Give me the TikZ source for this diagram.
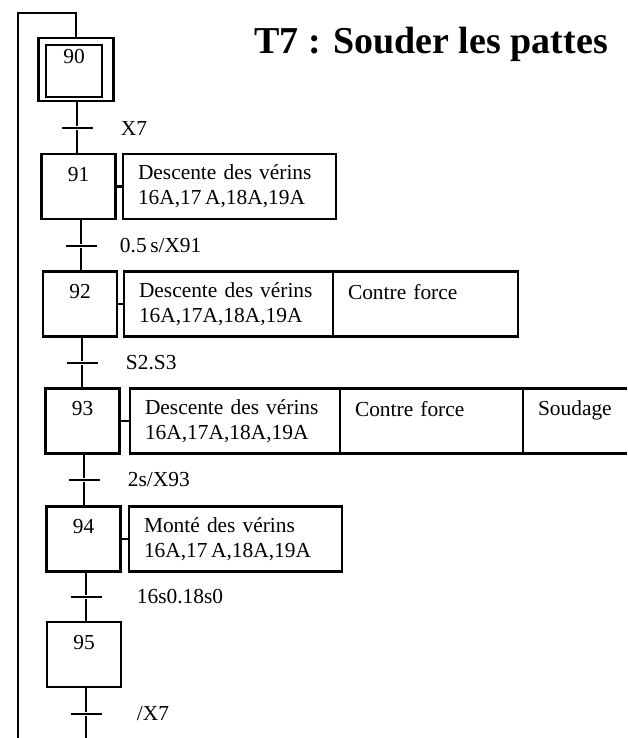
\documentclass[tikz,border=0pt]{standalone}
\usepackage{fontspec}
\setmainfont{Liberation Serif}
\usepackage{tikz}
\usetikzlibrary{positioning}

\begin{document}
\begin{tikzpicture}[
    x=0.5pt, y=-0.5pt,
    every node/.style={font=\fontsize{10.7}{12.5}\selectfont},
    etape/.style={rectangle, draw, line width=1.2pt, minimum width=37pt, minimum height=32.5pt, inner sep=0pt},
    num/.style={anchor=north, inner sep=0pt, yshift=-7pt},
    action/.style={rectangle, draw, line width=1.2pt, minimum height=32.5pt, inner xsep=7.5pt, inner ysep=0pt, outer sep=0pt, align=left, anchor=west},
    transition/.style={rectangle, fill=black, minimum width=15.5pt, minimum height=1.4pt, inner sep=0pt},
    tlab/.style={xshift=10.5pt},
    liaison/.style={line width=1.2pt}
]
    \useasboundingbox (0,0) rectangle (627,738);

    % Title
    \node[font=\fontsize{19}{22}\selectfont\bfseries] (titre) at (431,44) {T7 : Souder les pattes};

    % Initial step
    \node[etape, minimum width=37.5pt, minimum height=31.5pt] (e90) at (76,69.5) {};
    \node[etape, minimum width=28pt, minimum height=26pt, label={[anchor=north, inner sep=0pt, yshift=-2.5pt]north:90}] (e90i) at (74,71) {};

    % Steps
    \node[etape, label={[num]north:91}] (e91) at (78.5,186.5) {};
    \node[etape, label={[num]north:92}] (e92) at (80,304) {};
    \node[etape, label={[num]north:93}] (e93) at (82.5,421) {};
    \node[etape, label={[num]north:94}] (e94) at (83.5,539) {};
    \node[etape, label={[num]north:95}] (e95) at (84,654.5) {};

    % Transitions
    \node[transition, label={[tlab]right:X7}] (t90) at (77,128) {};
    \node[transition, label={[tlab, xshift=-2.5pt]right:0.5\,s/X91}] (t91) at (81,246) {};
    \node[transition, label={[tlab]right:S2.S3}] (t92) at (82,363) {};
    \node[transition, label={[tlab]right:2s/X93}] (t93) at (84,480) {};
    \node[transition, label={[tlab, xshift=3.5pt]right:16s0.18s0}] (t94) at (86,597) {};
    \node[transition, label={[tlab, xshift=3.5pt]right:/X7}] (t95) at (86,714) {};

    % Actions
    \node[action, text width=91.5pt] (a91) at (123,186.5) {Descente des vérins\\16A,17\,A,18A,19A};

    \node[action, text width=89.5pt] (a92) at (124,304) {Descente des vérins\\16A,17A,18A,19A};
    \node[action, text width=77.5pt, right=0pt of a92] (a92b) {Contre force\\\mbox{}};

    \node[action, text width=90pt] (a93) at (130,421) {Descente des vérins\\16A,17A,18A,19A};
    \node[action, text width=76.5pt, right=0pt of a93] (a93b) {Contre force\\\mbox{}};
    \node[action, draw=none, text width=37pt, right=0pt of a93b] (a93c) {Soudage\\\mbox{}};

    \node[action, text width=91.5pt] (a94) at (129,539) {Monté des vérins\\16A,17\,A,18A,19A};

    % Links
    \draw[liaison] (t90 |- e90.south) -- (t90) -- (t90 |- e91.north);
    \draw[liaison] (t91 |- e91.south) -- (t91) -- (t91 |- e92.north);
    \draw[liaison] (t92 |- e92.south) -- (t92) -- (t92 |- e93.north);
    \draw[liaison] (t93 |- e93.south) -- (t93) -- (t93 |- e94.north);
    \draw[liaison] (t94 |- e94.south) -- (t94) -- (t94 |- e95.north);

    \draw[liaison] (e91) -- (a91);
    \draw[liaison] (e92) -- (a92);
    \draw[liaison] (e93) -- (a93);
    \draw[liaison] (e94) -- (a94);
    \draw[liaison] (a93b.north east) -- (a93c.north east);
    \draw[liaison] (a93b.south east) -- (a93c.south east);

    % Loop back to 90
    \coordinate (bas) at (86,745);
    \coordinate (gauche) at (18,745);
    \coordinate (haut) at (18,13);
    \draw[liaison] (t95 |- e95.south) -- (t95) -- (bas);
    \draw[liaison] (gauche) -- (haut) -| (e90.north);
\end{tikzpicture}
\end{document}
